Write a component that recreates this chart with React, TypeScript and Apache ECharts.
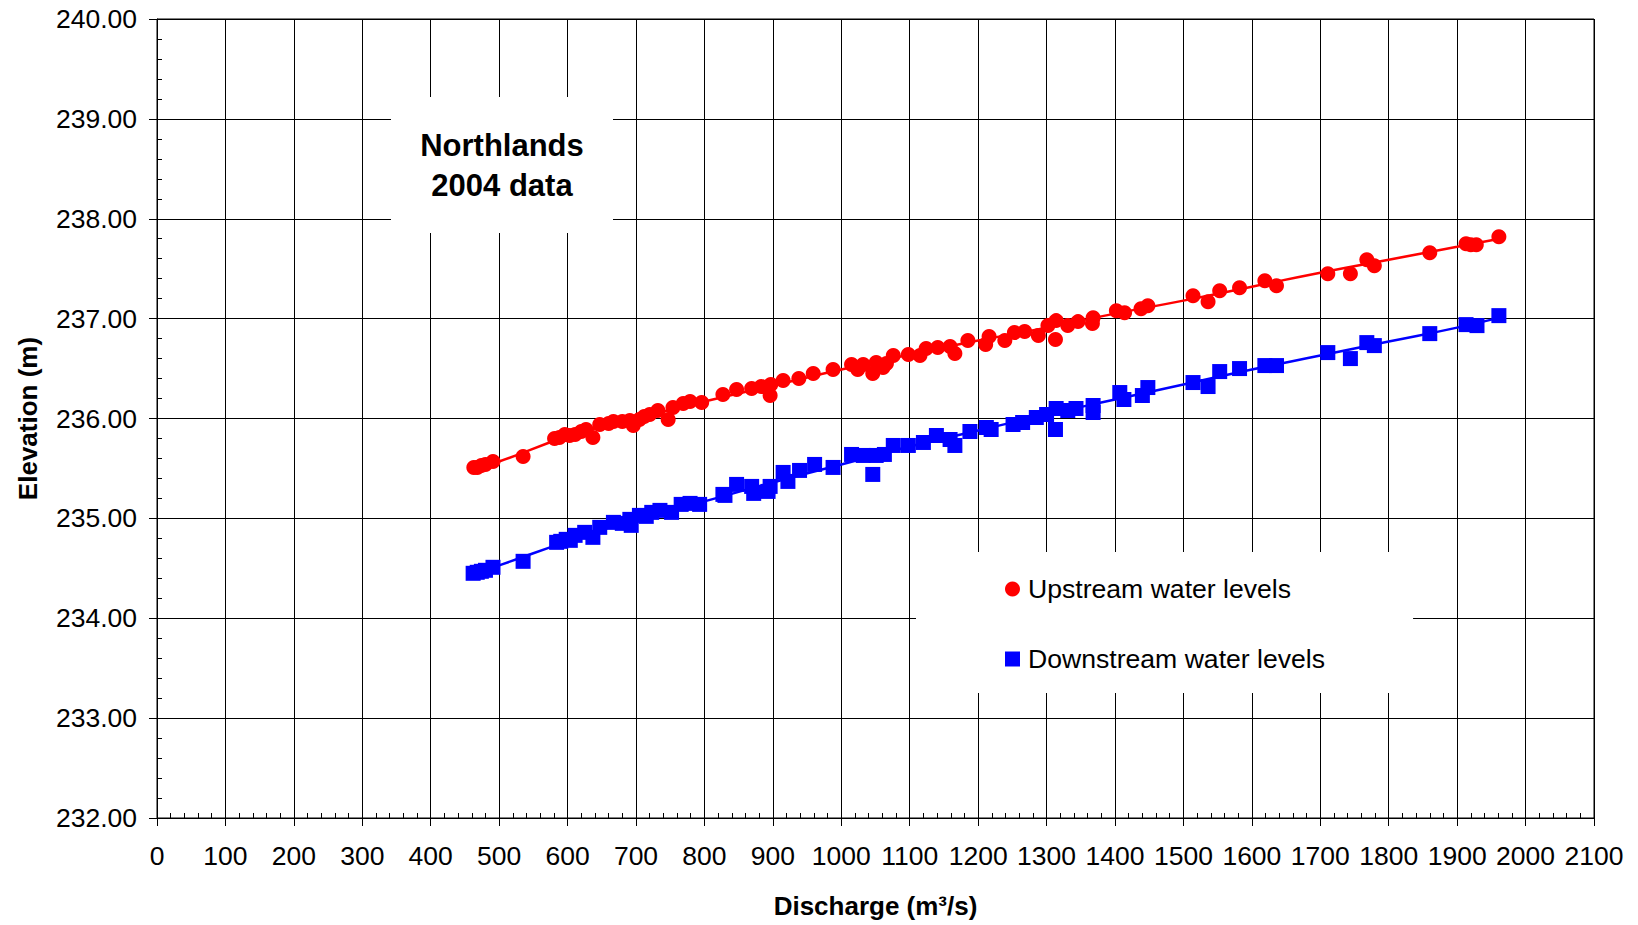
import React, { useEffect, useRef } from "react";
import * as echarts from "echarts";

// Upstream water levels (discharge m3/s, elevation m)
const upstreamQ = [463, 468, 474, 480, 491, 535, 581, 588, 596, 603, 611, 620, 627, 637, 647, 660, 667, 680, 691, 696, 705, 712, 720, 732, 747, 754, 769, 779, 796, 827, 847, 869, 883, 896, 897, 915, 938, 959, 988, 1015, 1024, 1032, 1046, 1051, 1061, 1066, 1076, 1098, 1115, 1124, 1141, 1159, 1166, 1185, 1211, 1216, 1239, 1253, 1268, 1288, 1302, 1313, 1314, 1331, 1346, 1367, 1368, 1402, 1414, 1438, 1448, 1514, 1536, 1553, 1582, 1619, 1636, 1711, 1744, 1768, 1779, 1860, 1913, 1920, 1928, 1961];
const upstreamLevel = [235.51, 235.51, 235.53, 235.54, 235.57, 235.62, 235.80, 235.81, 235.84, 235.83, 235.84, 235.87, 235.89, 235.81, 235.94, 235.95, 235.97, 235.97, 235.98, 235.93, 235.99, 236.02, 236.04, 236.08, 235.99, 236.11, 236.15, 236.17, 236.16, 236.24, 236.29, 236.30, 236.32, 236.23, 236.34, 236.38, 236.40, 236.45, 236.49, 236.54, 236.49, 236.54, 236.45, 236.56, 236.51, 236.55, 236.63, 236.64, 236.63, 236.70, 236.71, 236.72, 236.65, 236.78, 236.74, 236.82, 236.78, 236.86, 236.87, 236.83, 236.93, 236.79, 236.98, 236.93, 236.97, 236.95, 237.01, 237.08, 237.06, 237.10, 237.13, 237.23, 237.17, 237.28, 237.31, 237.38, 237.33, 237.45, 237.45, 237.59, 237.53, 237.66, 237.75, 237.74, 237.74, 237.82];

// Downstream water levels
const downstreamQ = [462, 468, 474, 480, 491, 535, 584, 590, 598, 604, 611, 625, 637, 647, 667, 680, 691, 693, 705, 715, 723, 735, 752, 766, 779, 793, 827, 830, 847, 869, 872, 893, 896, 915, 922, 939, 961, 988, 1015, 1032, 1046, 1051, 1063, 1076, 1098, 1120, 1139, 1159, 1166, 1188, 1212, 1219, 1251, 1265, 1285, 1300, 1313, 1314, 1331, 1343, 1368, 1368, 1407, 1413, 1440, 1448, 1514, 1536, 1553, 1582, 1619, 1636, 1711, 1744, 1768, 1779, 1860, 1913, 1929, 1961];
const downstreamLevel = [234.45, 234.46, 234.47, 234.48, 234.51, 234.57, 234.76, 234.77, 234.79, 234.78, 234.83, 234.86, 234.81, 234.91, 234.96, 234.95, 234.99, 234.93, 235.03, 235.02, 235.06, 235.08, 235.06, 235.14, 235.15, 235.14, 235.24, 235.23, 235.34, 235.32, 235.25, 235.27, 235.32, 235.46, 235.37, 235.48, 235.54, 235.51, 235.64, 235.63, 235.44, 235.63, 235.64, 235.73, 235.73, 235.76, 235.83, 235.79, 235.73, 235.87, 235.91, 235.89, 235.94, 235.96, 236.01, 236.04, 235.89, 236.10, 236.08, 236.10, 236.13, 236.06, 236.26, 236.19, 236.23, 236.31, 236.36, 236.32, 236.47, 236.50, 236.53, 236.53, 236.66, 236.60, 236.76, 236.73, 236.85, 236.94, 236.93, 237.03];

// Trend lines
const trendQ = [463, 500, 600, 700, 800, 900, 1000, 1100, 1200, 1300, 1400, 1500, 1600, 1700, 1800, 1900, 1962];
const upstreamTrend = [235.50, 235.57, 235.82, 236.00, 236.17, 236.33, 236.49, 236.64, 236.78, 236.91, 237.05, 237.18, 237.32, 237.46, 237.59, 237.72, 237.80];
const downstreamTrend = [234.45, 234.53, 234.77, 234.99, 235.17, 235.36, 235.54, 235.72, 235.88, 236.04, 236.19, 236.34, 236.49, 236.63, 236.77, 236.91, 237.01];

const upstreamName = "Upstream water levels";
const downstreamName = "Downstream water levels";
const titleLines = ["Northlands", "2004 data"];
const xAxisName = "Discharge (m³/s)";
const yAxisName = "Elevation (m)";

const FONT = "'Liberation Sans', Arial, Helvetica, sans-serif";

const zip = (a: number[], b: number[]) => a.map((v, i) => [v, b[i]]);

export default function App() {
  const ref = useRef<HTMLDivElement>(null);
  useEffect(() => {
    document.body.style.margin = "0";
    const chart = echarts.init(ref.current!, null, { renderer: "svg" });
    const axisLabelStyle = { color: "#000", fontSize: 26.5, fontFamily: FONT };
    chart.setOption({
      animation: false,
      backgroundColor: "#fff",
      textStyle: { fontFamily: FONT },
      grid: {
        left: 157, top: 19, right: 44, bottom: 107,
        show: true, borderColor: "#000", borderWidth: 1, backgroundColor: "transparent",
      },
      xAxis: [
        {
          type: "value", min: 0, max: 2100, interval: 100,
          name: xAxisName, nameLocation: "middle", nameGap: 75,
          nameTextStyle: { color: "#000", fontSize: 26, fontWeight: "bold", fontFamily: FONT },
          axisLine: { show: true, lineStyle: { color: "#000", width: 1 } },
          axisTick: { show: true, length: 8, lineStyle: { color: "#000" } },
          axisLabel: { ...axisLabelStyle, margin: 24, formatter: (v: number) => String(v) },
          splitLine: { show: true, lineStyle: { color: "#000", width: 1 } },
        },
        {
          type: "value", min: 0, max: 2100, interval: 100, position: "bottom",
          axisLine: { show: false },
          axisTick: { show: false, inside: true },
          minorTick: { show: true, splitNumber: 5, length: 5, lineStyle: { color: "#000" } },
          axisLabel: { show: false },
          splitLine: { show: false },
        },
      ],
      yAxis: [
        {
          type: "value", min: 232, max: 240, interval: 1,
          name: yAxisName, nameLocation: "middle", nameGap: 116,
          nameTextStyle: { color: "#000", fontSize: 26, fontWeight: "bold", fontFamily: FONT },
          axisLine: { show: true, lineStyle: { color: "#000", width: 1 } },
          axisTick: { show: true, length: 8, lineStyle: { color: "#000" } },
          axisLabel: { ...axisLabelStyle, margin: 20, formatter: (v: number) => v.toFixed(2) },
          splitLine: { show: true, lineStyle: { color: "#000", width: 1 } },
        },
        {
          type: "value", min: 232, max: 240, interval: 1, position: "left",
          axisLine: { show: false },
          axisTick: { show: false, inside: true },
          minorTick: { show: true, splitNumber: 5, length: 5, lineStyle: { color: "#000" } },
          axisLabel: { show: false },
          splitLine: { show: false },
        },
      ],
      legend: {
        orient: "vertical",
        left: 916, top: 552,
        padding: [22, 88, 19, 89],
        backgroundColor: "#fff",
        itemWidth: 15, itemHeight: 15, itemGap: 40,
        textStyle: { color: "#000", fontSize: 26.6, fontFamily: FONT, lineHeight: 30, padding: [0, 0, 0, 3] },
        data: [
          { name: upstreamName, icon: "circle" },
          { name: downstreamName, icon: "rect" },
        ],
      },
      graphic: [
        {
          type: "rect", z: 100, zlevel: 0,
          shape: { x: 391, y: 97, width: 222, height: 136 },
          style: { fill: "#fff" },
        },
        {
          type: "text", z: 101, zlevel: 0, x: 502, y: 165,
          style: {
            text: titleLines.join("\n"), fill: "#000", fontSize: 31, fontWeight: "bold",
            fontFamily: FONT, align: "center", verticalAlign: "middle", lineHeight: 40,
          },
        },
      ],
      series: [
        {
          name: "Upstream trend", type: "line", data: zip(trendQ, upstreamTrend),
          smooth: true, showSymbol: false, symbol: "none", z: 2,
          lineStyle: { color: "#ff0000", width: 2.5 }, itemStyle: { color: "#ff0000" },
        },
        {
          name: "Downstream trend", type: "line", data: zip(trendQ, downstreamTrend),
          smooth: true, showSymbol: false, symbol: "none", z: 2,
          lineStyle: { color: "#0000ff", width: 2.5 }, itemStyle: { color: "#0000ff" },
        },
        {
          name: upstreamName, type: "scatter", data: zip(upstreamQ, upstreamLevel),
          symbol: "circle", symbolSize: 15, z: 3,
          itemStyle: { color: "#ff0000", opacity: 1 },
        },
        {
          name: downstreamName, type: "scatter", data: zip(downstreamQ, downstreamLevel),
          symbol: "rect", symbolSize: 15, z: 3,
          itemStyle: { color: "#0000ff", opacity: 1 },
        },
      ],
    });
    return () => chart.dispose();
  }, []);
  return <div ref={ref} style={{ width: 1638, height: 925 }} />;
}
